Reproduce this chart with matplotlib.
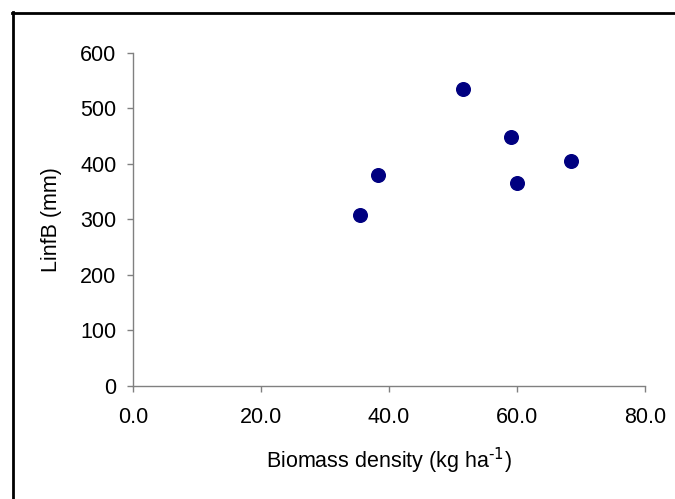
import matplotlib
matplotlib.use('Agg')
import matplotlib.pyplot as plt
from matplotlib.lines import Line2D

plt.rcParams['font.family'] = ['Liberation Sans', 'DejaVu Sans']
plt.rcParams['mathtext.default'] = 'regular'

# data
biomass = [35.5, 38.3, 51.5, 59.0, 60.0, 68.4]
linf_b = [308, 380, 535, 448, 366, 406]

x_ticks = [0, 20, 40, 60, 80]
x_tick_labels = ['0.0', '20.0', '40.0', '60.0', '80.0']
y_ticks = [0, 100, 200, 300, 400, 500, 600]

fig = plt.figure(figsize=(6.75, 4.99), dpi=100)
ax = fig.add_axes([0.197, 0.2265, 0.7586, 0.6673])

ax.plot(biomass, linf_b, linestyle='none', marker='o', markersize=9.8,
        color='#000080', markeredgecolor='#000080', clip_on=False)

ax.set_xlim(0, 80)
ax.set_ylim(0, 600)
ax.set_xticks(x_ticks)
ax.set_xticklabels(x_tick_labels)
ax.set_yticks(y_ticks)

for side in ['top', 'right']:
    ax.spines[side].set_visible(False)
for side in ['left', 'bottom']:
    ax.spines[side].set_color('#808080')
    ax.spines[side].set_linewidth(1.0)

ax.tick_params(axis='both', direction='out', length=4, width=1.0,
               color='#808080', labelsize=15.5)
ax.tick_params(axis='x', pad=11)
ax.tick_params(axis='y', pad=8)

ax.set_xlabel('Biomass density (kg ha$^{\\text{-1}}$)', fontsize=15.5)
ax.set_ylabel('LinfB (mm)', fontsize=15.5)
ax.xaxis.set_label_coords(0.5, -0.18)
ax.yaxis.set_label_coords(-0.138, 0.5)

# frame around the figure, cut off at the right and bottom edges
fig.add_artist(Line2D([12 / 675, 1.0], [1 - 13 / 499, 1 - 13 / 499],
                      transform=fig.transFigure, color='black', linewidth=2))
fig.add_artist(Line2D([13 / 675, 13 / 675], [0.0, 1 - 12 / 499],
                      transform=fig.transFigure, color='black', linewidth=2))

fig.savefig('out.png', dpi=100)
